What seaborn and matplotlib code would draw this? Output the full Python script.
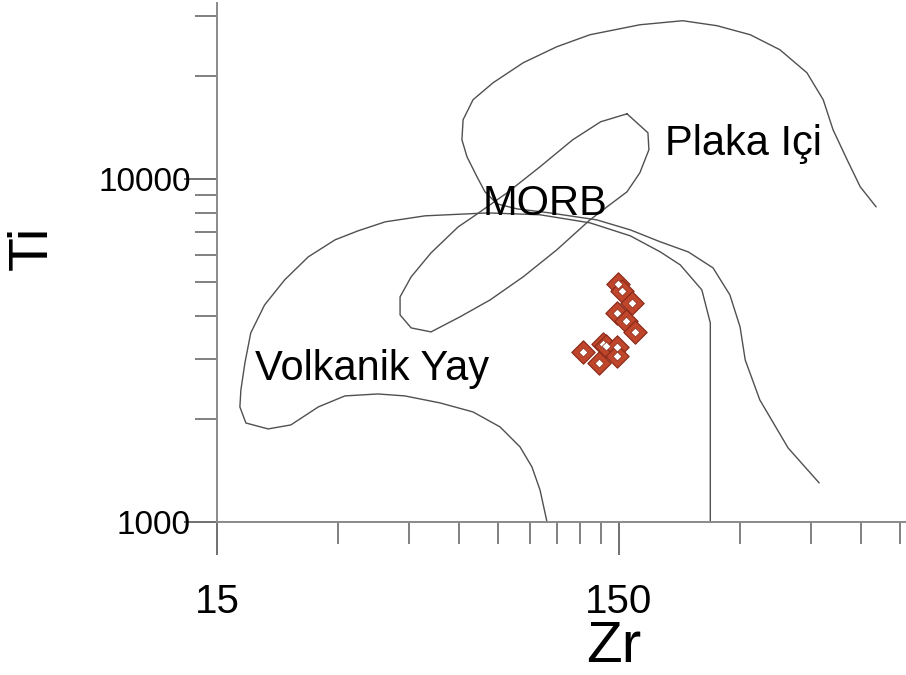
import matplotlib
matplotlib.use("Agg")
import matplotlib.pyplot as plt
import seaborn as sns
import pandas as pd
from matplotlib.ticker import FixedLocator, FixedFormatter, NullFormatter

# ---------------- data ----------------
# Within-plate field boundary ("Plaka Içi"), open curve
wp_zr = [654, 597, 554, 511, 483, 440, 377, 318, 263, 216, 169, 127, 105, 86.6, 72.9,
         65.0, 61.4, 61.0, 62.8, 66.5, 69.6, 74.6, 83.6, 101, 132, 160, 190, 223, 257,
         283, 300, 309, 336, 395, 472]
wp_ti = [8310, 9510, 11400, 13950, 17070, 20460, 23880, 26420, 28070, 29030, 28250,
         26420, 24370, 21880, 19130, 17070, 14920, 13040, 11630, 10170, 9195, 8480, 8200,
         7980, 7615, 7120, 6570, 6140, 5515, 4600, 3710, 2970, 2270, 1645, 1300]

# Volcanic arc field boundary ("Volkanik Yay")
arc_zr = [99.3, 95.4, 91.1, 85.1, 75.9, 65.0, 53.8, 44.0, 37.7, 31.2, 26.8, 22.9, 20.1,
          17.7, 17.1, 17.2, 17.6, 18.2, 19.7, 22.1, 25.3, 29.5, 33.6, 39.3, 49.4, 70.8,
          95.4, 127, 160, 190, 213, 241, 253, 253]
arc_ti = [1000, 1240, 1447, 1656, 1894, 2095, 2226, 2333, 2364, 2333, 2167, 1920, 1869,
          1945, 2167, 2429, 2912, 3563, 4300, 5088, 5940, 6660, 7070, 7515, 7825, 7980,
          7880, 7464, 6840, 6140, 5627, 4758, 3811, 1000]

# MORB field boundary (closed)
morb_zr = [157, 177, 178, 169, 157, 140, 127, 105, 86.6, 71.7, 60.3, 51.1, 45.6, 42.8,
           42.8, 45.6, 51.1, 59.7, 65.0, 79.0, 95.4, 115, 135, 157]
morb_ti = [15530, 13670, 12200, 10450, 9195, 8310, 7615, 6225, 5192, 4448, 3968, 3587,
           3685, 4021, 4540, 5192, 6100, 7265, 7773, 9133, 10880, 13040, 14720, 15530]

# Samples
sample_zr = [149, 153, 162, 148, 156, 164, 137, 139, 122, 148, 148, 134]
sample_ti = [4950, 4730, 4360, 4080, 3860, 3590, 3310, 3265, 3135, 3240, 3050, 2910]

# Field labels
field_names = ["Plaka Içi", "MORB", "Volkanik Yay"]
field_zr = [195, 68.8, 18.6]
field_ti = [11800, 7880, 2600]

# Axes
x_major = [15, 150]
x_major_labels = ["15", "150"]
x_minor = [30, 45, 60, 75, 90, 105, 120, 135, 300, 450, 600, 750]
y_major = [1000, 10000]
y_major_labels = ["1000", "10000"]
y_minor = [2000, 3000, 4000, 5000, 6000, 7000, 8000, 9000, 20000, 30000]
x_limits = [15, 776]
y_limits = [1000, 32700]

# ---------------- plotting ----------------
sns.set_theme(style="white")
plt.rcParams["font.family"] = ["Liberation Sans", "DejaVu Sans"]
plt.rcParams["text.color"] = "black"
plt.rcParams["axes.labelcolor"] = "black"
plt.rcParams["xtick.labelcolor"] = "black"
plt.rcParams["ytick.labelcolor"] = "black"

fig = plt.figure(figsize=(9.06, 6.75), dpi=100)
ax = fig.add_axes([217 / 906, (675 - 522) / 675, 689 / 906, 519 / 675])
ax.set_xscale("log")
ax.set_yscale("log")

curve_color = "#505050"
for zr, ti in [(wp_zr, wp_ti), (arc_zr, arc_ti), (morb_zr, morb_ti)]:
    df = pd.DataFrame({"Zr": zr, "Ti": ti})
    sns.lineplot(data=df, x="Zr", y="Ti", sort=False, estimator=None,
                 color=curve_color, linewidth=1.0, ax=ax)

# thick red diamond with small white centre
sns.scatterplot(x=sample_zr, y=sample_ti, marker="D", s=140,
                facecolor="#bf452b", edgecolor="#8c2c1b", linewidth=0.9, ax=ax, zorder=5)
sns.scatterplot(x=sample_zr, y=sample_ti, marker="D", s=20,
                facecolor="white", edgecolor="#8c2c1b", linewidth=0.5, ax=ax, zorder=6)

for name, zx, ty in zip(field_names, field_zr, field_ti):
    ax.text(zx, ty, name, fontsize=30, ha="left", va="baseline", color="black")

ax.set_xlim(*x_limits)
ax.set_ylim(*y_limits)

for side in ["top", "right"]:
    ax.spines[side].set_visible(False)
for side in ["left", "bottom"]:
    ax.spines[side].set_color("#8a8a8a")
    ax.spines[side].set_linewidth(1.4)

ax.xaxis.set_major_locator(FixedLocator(x_major))
ax.xaxis.set_major_formatter(FixedFormatter(x_major_labels))
ax.xaxis.set_minor_locator(FixedLocator(x_minor))
ax.xaxis.set_minor_formatter(NullFormatter())
ax.yaxis.set_major_locator(FixedLocator(y_major))
ax.yaxis.set_major_formatter(FixedFormatter(y_major_labels))
ax.yaxis.set_minor_locator(FixedLocator(y_minor))
ax.yaxis.set_minor_formatter(NullFormatter())

ax.tick_params(axis="both", which="major", direction="out", length=24, width=1.4,
               color="#707070")
ax.tick_params(axis="both", which="minor", direction="out", length=16, width=1.4,
               color="#808080")
ax.tick_params(axis="x", which="major", pad=20, labelsize=29, labelcolor="black")
ax.tick_params(axis="y", which="major", pad=-5, labelsize=24, labelcolor="black")
ax.tick_params(left=True, bottom=True, which="both")

ax.set_xlabel("Zr", fontsize=42, color="black")
ax.set_ylabel("Ti", fontsize=40, color="black")
ax.xaxis.set_label_coords((614 - 217) / 689, -(647 - 522) / 519)
ax.xaxis.label.set_va("center")
ax.yaxis.set_label_coords((33 - 217) / 689, (522 - 248) / 519)
ax.yaxis.label.set_va("center")

fig.savefig("out.png", dpi=100, facecolor="white")
